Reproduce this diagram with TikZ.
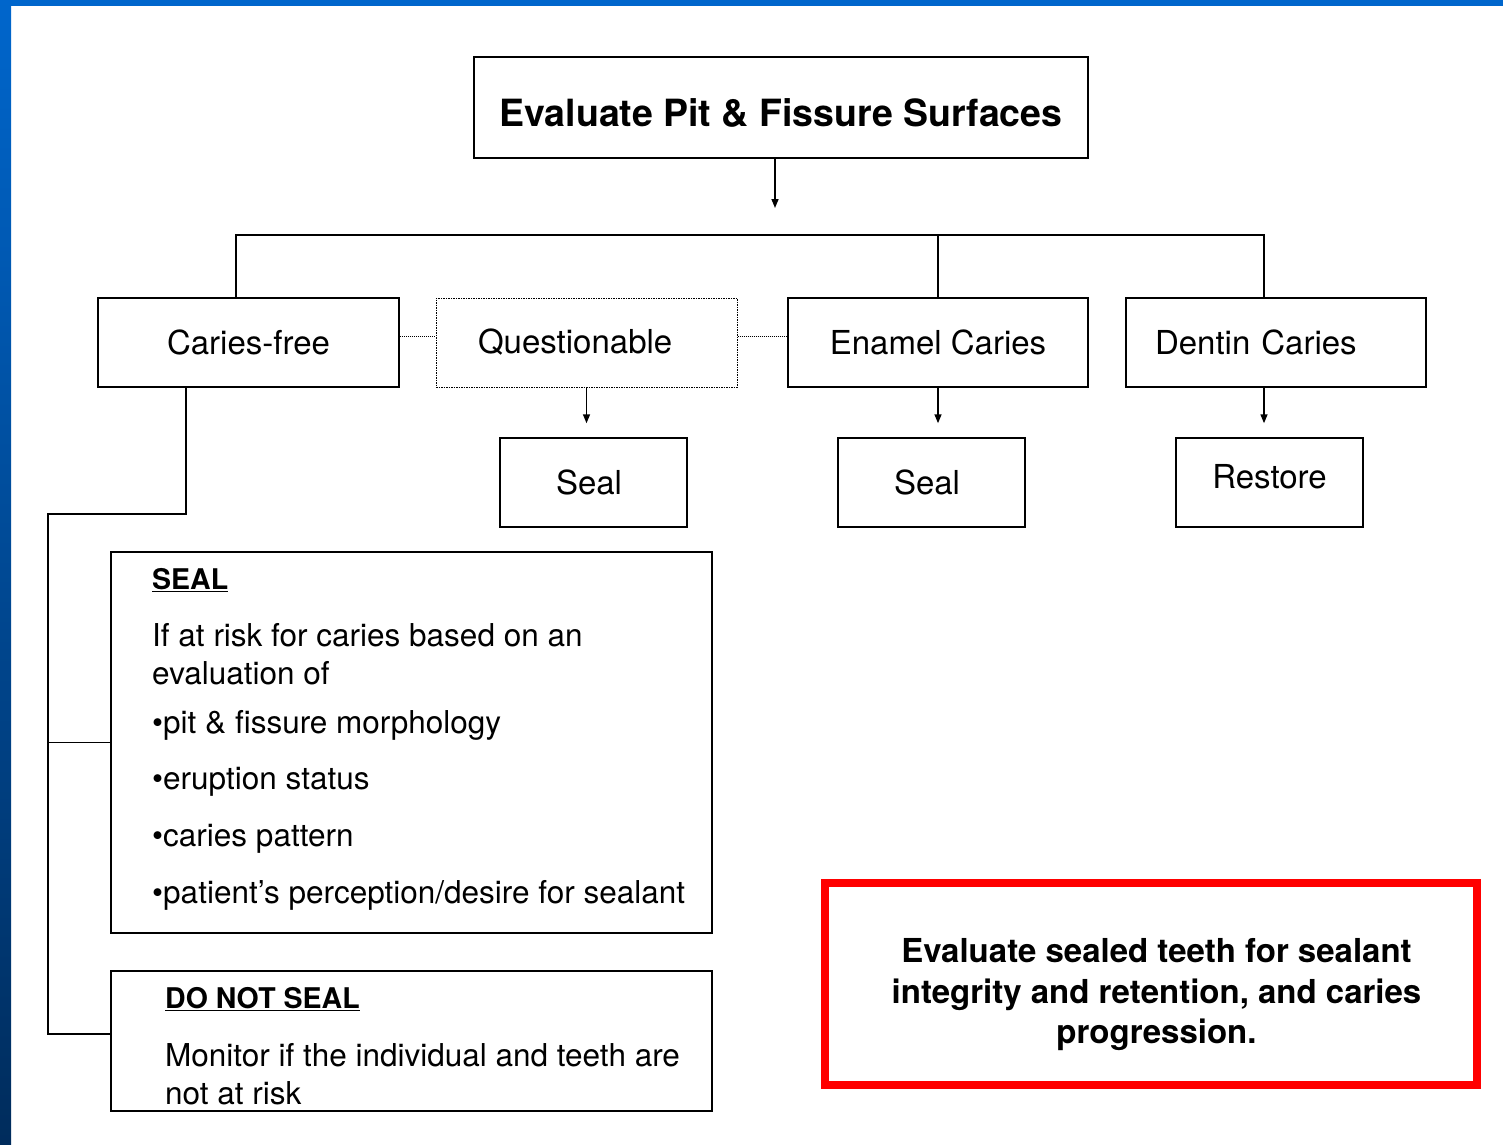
\documentclass[tikz,border=0pt]{standalone}
\usepackage{fontspec}
\setmainfont{TeX Gyre Heros}
\usepackage{tikz}
\usetikzlibrary{arrows.meta}
\definecolor{slideblue}{RGB}{0,102,204}
\definecolor{slidenavy}{RGB}{0,44,92}

\begin{document}
\begin{tikzpicture}[x=1pt, y=-1pt,
        box/.style={draw, line width=1.5pt, minimum height=89pt, inner sep=0pt, font=\fontsize{33}{40}\selectfont},
        qbox/.style={box, densely dotted, line width=1pt},
        frame/.style={draw, line width=1.5pt, inner sep=0pt},
        note/.style={anchor=north west, inner sep=0pt, align=left, font=\fontsize{31.5}{38}\selectfont},
        link/.style={line width=1.5pt},
        dotlink/.style={densely dotted, line width=1pt},
        arr/.style={line width=1.5pt, -{Triangle[length=9pt, width=7pt]}}]
            \useasboundingbox (0, 0) rectangle (1503, 1144);
            % slide background
            \fill[white] (0, 0) rectangle (1503, 1144);
            \fill[slideblue] (0, 0) rectangle (1503, 6);
            \shade[top color=slideblue, bottom color=slidenavy] (0, 0) rectangle (11, 1144);

            \node[box, minimum width=614pt, minimum height=101pt, font=\fontsize{37.5}{44}\selectfont\bfseries] at (781, 107.5) (evaluate) {\raisebox{-5pt}[\height][\depth]{Evaluate Pit \& Fissure Surfaces}};

            \node[box, minimum width=301pt] at (248.5, 342.5) (cariesfree) {Caries-free};
            \node[qbox, minimum width=301pt, text width=217pt, align=left] at (586.5, 342.5) (questionable) {Questionable};
            \node[box, minimum width=300pt] at (938, 342.5) (enamel) {Enamel Caries};
            \node[box, minimum width=300pt, text width=242pt, align=left] at (1276, 342.5) (dentin) {Dentin Caries};

            \node[box, minimum width=187pt, text width=75pt, align=left] at (593.5, 482.5) (sealq) {Seal};
            \node[box, minimum width=187pt, text width=75pt, align=left] at (931.5, 482.5) (seale) {Seal};
            \node[box, minimum width=187pt] at (1269.5, 482.5) (restore) {\raisebox{6pt}[\height][\depth]{Restore}};

            \node[frame, minimum width=601pt, minimum height=381pt] at (411.5, 742.5) (seal) {};
            \node[note] at (152, 568) (sealtext) {{\fontsize{28.5}{38}\selectfont\bfseries\underline{SEAL}}\\[19pt]
                If at risk for caries based on an\\
                evaluation of\\[11pt]
                •pit \& fissure morphology\\[18pt]
                •eruption status\\[19pt]
                •caries pattern\\[19pt]
                •patient’s perception/desire for sealant};

            \node[frame, minimum width=601pt, minimum height=140pt] at (411.5, 1041) (donot) {};
            \node[note] at (165, 987.5) (donottext) {{\fontsize{28.5}{38}\selectfont\bfseries\underline{DO NOT SEAL}}\\[20pt]
                Monitor if the individual and teeth are\\
                not at risk};

            \node[draw=red, line width=8pt, inner sep=0pt, minimum width=651.5pt, minimum height=202pt] at (1150.75, 984) (recheck) {};
            \node[align=center, inner sep=0pt, font=\fontsize{33}{40.5}\selectfont\bfseries] at (1156.5, 995) (rechecktext) {Evaluate sealed teeth for sealant\\
                integrity and retention, and caries\\
                progression.};

            % connectors
            \coordinate (split) at (775, 208);
            \coordinate (barl) at (236, 235);
            \coordinate (barr) at (1264, 235);
            \coordinate (cfleg) at (186, 514);
            \coordinate (trunk) at (48, 514);
            \coordinate (trunkend) at (48, 1034);

            \draw [arr] (evaluate.south -| split) -- (split);
            \draw [link] (cariesfree.north -| barl) -- (barl) -- (barr) -- (dentin.north -| barr);
            \draw [link] (enamel.north) -- (enamel.north |- barl);
            \draw [dotlink] ([yshift=6pt]cariesfree.east) -- ([yshift=6pt]questionable.west);
            \draw [dotlink] ([yshift=6pt]questionable.east) -- ([yshift=6pt]enamel.west);

            \draw [arr, shorten >=14pt] (questionable.south) -- (questionable.south |- sealq.north);
            \draw [arr, shorten >=14pt] (enamel.south) -- (enamel.south |- seale.north);
            \draw [arr, shorten >=14pt] (dentin.south -| barr) -- (barr |- restore.north);

            \draw [link] (cariesfree.south -| cfleg) -- (cfleg) -- (trunk) -- (trunkend) -- (trunkend -| donot.west);
            \draw [link] (trunk |- seal.west) -- (seal.west);
        \end{tikzpicture}
\end{document}
